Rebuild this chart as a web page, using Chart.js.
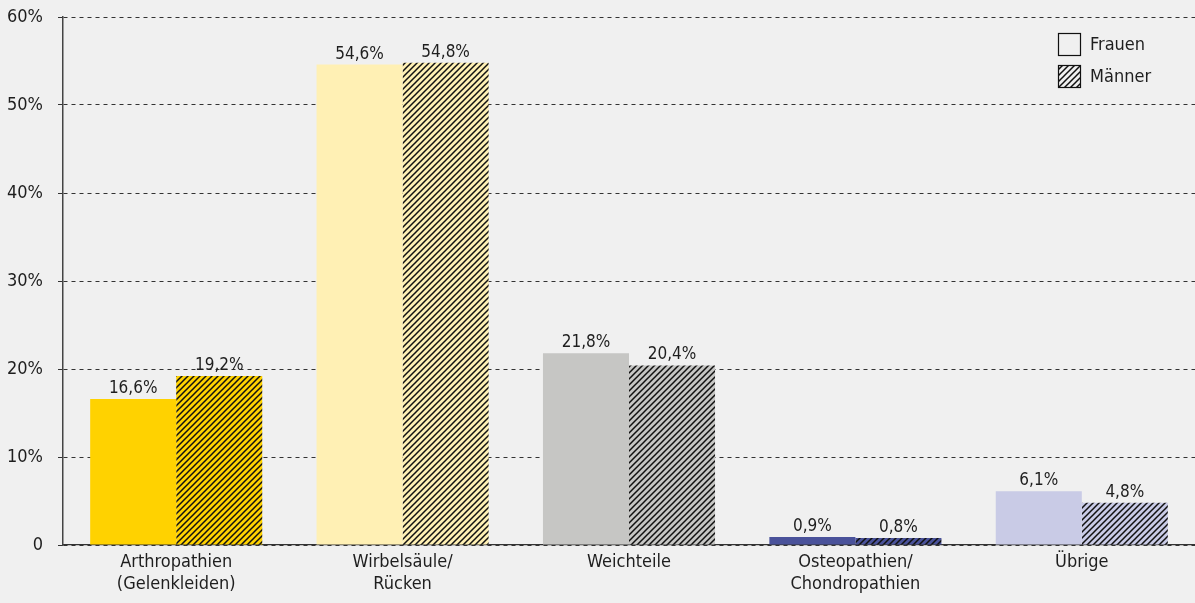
<!DOCTYPE html>
<html>
<head>
<meta charset="utf-8">
<script src="https://cdn.jsdelivr.net/npm/chart.js@4/dist/chart.umd.min.js"></script>
<style>
    html, body { margin: 0; padding: 0; background: #f0f0f0; }
    #wrap { width: 1195px; height: 603px; }
</style>
</head>
<body>
<div id="wrap"><canvas id="grafica"></canvas></div>
<script>
// Diagnosegruppen und Anteile in Prozent
const kategorien = [
    ['Arthropathien', '(Gelenkleiden)'],
    ['Wirbelsäule/', 'Rücken'],
    'Weichteile',
    ['Osteopathien/', 'Chondropathien'],
    'Übrige'
];
const frauen = [16.6, 54.6, 21.8, 0.9, 6.1];
const maenner = [19.2, 54.8, 20.4, 0.8, 4.8];
const farben = ['#ffd200', '#fff0b4', '#c6c6c4', '#4a529a', '#c9cbe6'];
const yTicks = [0, 10, 20, 30, 40, 50, 60];

const schrift = '"DejaVu Sans Condensed", "Liberation Sans Narrow", sans-serif';
const textFarbe = '#1e1e1e';

// schraffur: farbe als fond, schwarze diagonale linien
function schraffur(fond) {
    const s = 6;
    const c = document.createElement('canvas');
    c.width = s;
    c.height = s;
    const g = c.getContext('2d');
    if (fond) {
        g.fillStyle = fond;
        g.fillRect(0, 0, s, s);
    }
    g.strokeStyle = '#111';
    g.lineWidth = 1.5;
    g.beginPath();
    g.moveTo(-1, s + 1); g.lineTo(s + 1, -1);
    g.moveTo(-1, 1); g.lineTo(1, -1);
    g.moveTo(s - 1, s + 1); g.lineTo(s + 1, s - 1);
    g.stroke();
    return g.createPattern(c, 'repeat');
}

// werte über den balken
const werteLabels = {
    id: 'werteLabels',
    afterDatasetsDraw(chart) {
        const ctx = chart.ctx;
        ctx.save();
        ctx.font = '17px ' + schrift;
        ctx.fillStyle = textFarbe;
        ctx.textAlign = 'center';
        ctx.textBaseline = 'alphabetic';
        chart.data.datasets.forEach((ds, i) => {
            chart.getDatasetMeta(i).data.forEach((bar, j) => {
                const txt = ds.data[j].toFixed(1).replace('.', ',') + '%';
                ctx.fillText(txt, bar.x, bar.y - 6);
            });
        });
        ctx.restore();
    }
};

// legende oben rechts
const legende = {
    id: 'legende',
    afterDraw(chart) {
        const ctx = chart.ctx;
        const x = 1058, w = 22, h = 22;
        const eintraege = [['Frauen', null, 33], ['Männer', schraffur(null), 65]];
        ctx.save();
        ctx.font = '18px ' + schrift;
        ctx.textBaseline = 'middle';
        eintraege.forEach(e => {
            if (e[1]) {
                ctx.fillStyle = e[1];
                ctx.fillRect(x, e[2], w, h);
            }
            ctx.strokeStyle = '#111';
            ctx.lineWidth = 1.2;
            ctx.strokeRect(x + 0.5, e[2] + 0.5, w, h);
            ctx.fillStyle = textFarbe;
            ctx.fillText(e[0], x + 32, e[2] + h / 2 + 1);
        });
        ctx.restore();
    }
};

window.onload = function () {
    const ctx = document.getElementById('grafica');
    new Chart(ctx, {
        type: 'bar',
        data: {
            labels: kategorien,
            datasets: [{
                label: 'Frauen',
                data: frauen,
                backgroundColor: farben
            }, {
                label: 'Männer',
                data: maenner,
                backgroundColor: farben.map(f => schraffur(f))
            }]
        },
        options: {
            responsive: true,
            maintainAspectRatio: false,
            animation: false,
            layout: { padding: { top: 17, right: 0, left: 0, bottom: 0 } },
            categoryPercentage: 0.76,
            barPercentage: 1,
            plugins: {
                legend: { display: false },
                tooltip: { enabled: false }
            },
            scales: {
                x: {
                    grid: { display: false, drawTicks: false },
                    border: { color: '#333', width: 1.2 },
                    ticks: {
                        color: textFarbe,
                        font: { family: schrift, size: 18, lineHeight: 1.25 },
                        padding: 6,
                        maxRotation: 0,
                        autoSkip: false
                    },
                    afterFit(axis) { axis.height = 58; }
                },
                y: {
                    min: 0,
                    max: 60,
                    afterBuildTicks(axis) { axis.ticks = yTicks.map(v => ({ value: v })); },
                    grid: {
                        color: '#333',
                        lineWidth: 1,
                        tickLength: 5,
                        tickColor: '#333'
                    },
                    // dash gilt in v4 für die gitterlinien, die achse bleibt durchgezogen
                    border: { color: '#444', width: 1.5, dash: [4, 4] },
                    ticks: {
                        color: textFarbe,
                        font: { family: schrift, size: 18 },
                        padding: 15,
                        callback: v => v === 0 ? '0' : v + '%'
                    },
                    afterFit(axis) {
                        axis.width = 63;
                        // kein zusätzlicher abstand oben/unten durch die beschriftung
                        axis.paddingTop = 0;
                        axis.paddingBottom = 0;
                    }
                }
            }
        },
        plugins: [werteLabels, legende]
    });
};
</script>
</body>
</html>
